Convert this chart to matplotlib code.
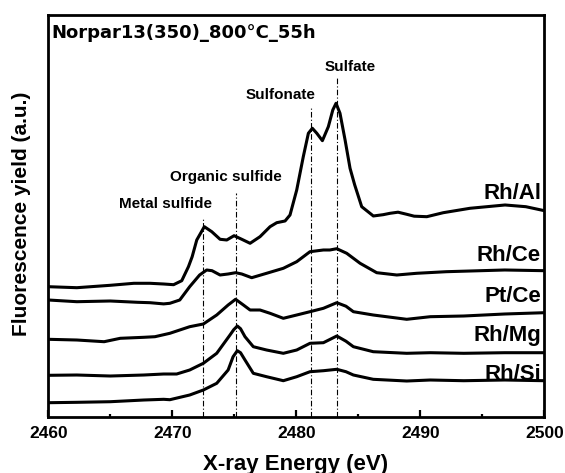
import matplotlib.pyplot as plt

plt.rcParams['font.family'] = ['Liberation Sans', 'DejaVu Sans']

# S K-edge XANES spectra, offset for display (arbitrary units)
x_al = [2460.0, 2462.3, 2465.0, 2466.9, 2468.2, 2469.3, 2470.1, 2470.76, 2471.3, 2471.6,
        2471.97, 2472.58, 2473.18, 2473.85, 2474.39, 2474.98, 2475.6, 2476.27, 2477.07, 2477.88,
        2478.42, 2479.09, 2479.49, 2480.03, 2480.56, 2480.97, 2481.29, 2481.65, 2482.1, 2482.58,
        2482.94, 2483.2, 2483.52, 2483.93, 2484.33, 2484.7, 2485.27, 2486.21, 2487.0, 2487.56,
        2488.2, 2488.9, 2489.5, 2490.52, 2491.85, 2494.0, 2496.83, 2498.5, 2500.0]
y_al = [130, 129, 131.4, 133.4, 133.4, 132.7, 132, 136, 150, 160,
        176.7, 190, 185, 177.4, 176.7, 181, 177.4, 173.4, 180, 190,
        194, 195.7, 201.7, 226.7, 260, 283.4, 288.4, 283.4, 276, 290,
        306.7, 313.4, 303.4, 276.7, 248.4, 232, 210, 200.7, 202, 203.4,
        204.5, 202.4, 200.5, 200, 204, 208.4, 211.7, 210, 206]

x_rhce = [2460.0, 2462.3, 2465.0, 2467.2, 2468.2, 2469.3, 2469.8, 2470.6, 2471.4, 2472.2,
          2472.77, 2473.2, 2473.85, 2474.5, 2475.1, 2475.6, 2476.4, 2477.6, 2478.95, 2480.03,
          2481.1, 2482.18, 2482.7, 2483.26, 2484.06, 2485.14, 2486.48, 2488.1, 2489.7, 2492.1,
          2496.8, 2500.0]
y_rhce = [116.7, 115, 115.7, 114.4, 114, 112.8, 113.4, 116.7, 130, 141.7,
          146.7, 146, 141.7, 142.7, 144, 142.7, 139, 143.4, 148.4, 155,
          165, 166.7, 166.7, 168, 163.4, 153.4, 144, 141.7, 143.4, 145,
          146.7, 146]

x_ptce = [2460.0, 2462.3, 2464.5, 2465.8, 2467.7, 2468.6, 2469.8, 2471.4, 2472.5, 2473.58,
          2474.5, 2475.1, 2475.73, 2476.27, 2477.07, 2477.88, 2478.95, 2480.03, 2481.1, 2482.18,
          2483.26, 2484.0, 2484.6, 2486.2, 2488.9, 2490.8, 2493.5, 2496.8, 2500.0]
y_ptce = [77.4, 76.7, 75, 78.4, 79.4, 80, 83.4, 90, 92.7, 101.7,
          111.7, 117.4, 111.7, 106.7, 106.7, 103.4, 98.4, 101.7, 105, 108.4,
          114, 110.5, 105, 101.7, 97.4, 100, 100.7, 102.7, 104]

x_rhmg = [2460.0, 2462.3, 2465.0, 2467.7, 2469.3, 2470.35, 2471.4, 2472.5, 2473.58, 2474.65,
          2474.95, 2475.24, 2475.5, 2475.86, 2476.53, 2477.6, 2478.95, 2480.03, 2481.1, 2482.18,
          2483.26, 2484.0, 2484.6, 2486.2, 2488.9, 2490.8, 2493.5, 2496.8, 2500.0]
y_rhmg = [41.4, 41.7, 40.7, 41.7, 42.7, 42.7, 46.7, 53.4, 63.4, 81.7,
          87, 90.7, 88, 80, 70, 66.7, 63.4, 66.7, 73.4, 74,
          80.7, 75.5, 70, 65, 63.4, 64, 63.4, 64, 64]

x_rhsi = [2460.0, 2462.3, 2465.0, 2467.7, 2469.3, 2469.8, 2471.4, 2472.5, 2473.58, 2474.5,
          2474.9, 2475.24, 2475.5, 2475.86, 2476.53, 2477.6, 2478.95, 2480.03, 2481.1, 2482.18,
          2483.26, 2484.0, 2484.6, 2486.2, 2488.9, 2490.8, 2493.5, 2496.8, 2500.0]
y_rhsi = [14, 14.4, 15, 16.7, 17.4, 17, 21.7, 26.7, 33.4, 46.7,
          60, 66, 64, 56.7, 43.4, 40, 36, 40, 45, 46,
          47.4, 45, 41.7, 37.4, 35.7, 36.7, 36, 36.7, 36]

sample_names = ["Rh/Al", "Rh/Ce", "Pt/Ce", "Rh/Mg", "Rh/Si"]
name_base = [218, 155.4, 114.5, 75.4, 37]

# reference energies of the sulfur species
species = ["Metal sulfide", "Organic sulfide", "Sulfonate", "Sulfate"]
species_e = [2472.5, 2475.15, 2481.2, 2483.25]
line_top = [200, 223.4, 310, 339.7]
label_x = [2469.44, 2474.31, 2478.74, 2484.38]
label_base = [208.5, 235.4, 318, 345.5]

fig = plt.figure(figsize=(5.65, 4.73), dpi=100)
ax = fig.add_axes([0.0855, 0.119, 0.878, 0.850])

for xs, ys in [(x_al, y_al), (x_rhce, y_rhce), (x_ptce, y_ptce), (x_rhmg, y_rhmg), (x_rhsi, y_rhsi)]:
    ax.plot(xs, ys, color='black', lw=2.2, solid_joinstyle='round', solid_capstyle='round')

for e, top in zip(species_e, line_top):
    ax.plot([e, e], [0, top], color='black', lw=0.8, linestyle=(0, (5, 2, 1, 2)))

for name, lx, ly in zip(species, label_x, label_base):
    ax.text(lx, ly, name, ha='center', va='baseline', fontsize=11, fontweight='bold')

for name, ny in zip(sample_names, name_base):
    ax.text(2499.73, ny, name, ha='right', va='baseline', fontsize=16, fontweight='bold')

ax.text(2460.27, 378.8, "Norpar13(350)_800°C_55h", ha='left', va='baseline',
        fontsize=13, fontweight='bold', family='DejaVu Sans')

ax.set_xlim(2460, 2500)
ax.set_ylim(0, 402)
ax.set_xticks([2460, 2470, 2480, 2490, 2500])
ax.set_xticks([2465, 2475, 2485, 2495], minor=True)
ax.set_yticks([])
ax.tick_params(axis='x', which='major', direction='in', length=5, width=1.6,
               labelsize=12.5, pad=6.5)
ax.tick_params(axis='x', which='minor', direction='in', length=2.5, width=1.6)
for lab in ax.get_xticklabels():
    lab.set_fontweight('bold')
for sp in ax.spines.values():
    sp.set_linewidth(2)

fig.text(0.524, 0.019, "X-ray Energy (eV)", ha='center', va='center',
         fontsize=16, fontweight='bold')
fig.text(21.7 / 565, 0.548, "Fluorescence yield (a.u.)", ha='center', va='center',
         rotation=90, fontsize=15, fontweight='bold')

fig.savefig("out.png", dpi=100)
